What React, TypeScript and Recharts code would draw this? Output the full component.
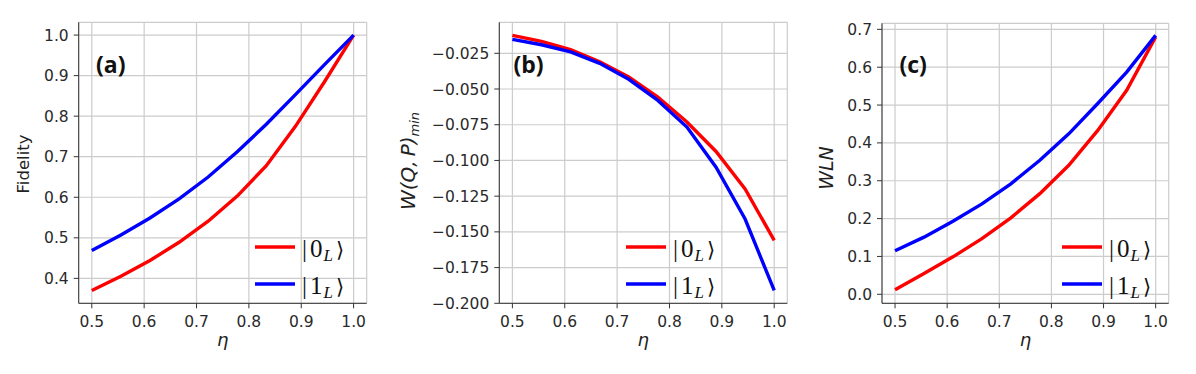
import React from 'react';
import { LineChart, Line, XAxis, YAxis, CartesianGrid, Legend } from 'recharts';

// ---------- data ----------
const eta = [0.5, 0.5556, 0.6111, 0.6667, 0.7222, 0.7778, 0.8333, 0.8889, 0.9444, 1.0];

const fidelity0 = [0.37, 0.405, 0.444, 0.489, 0.541, 0.603, 0.678, 0.775, 0.885, 1.0];
const fidelity1 = [0.469, 0.507, 0.549, 0.596, 0.65, 0.712, 0.78, 0.853, 0.927, 1.0];

const wigner0 = [-0.0124, -0.0166, -0.0224, -0.031, -0.0416, -0.0556, -0.0731, -0.0937, -0.1199, -0.156];
const wigner1 = [-0.0152, -0.019, -0.024, -0.032, -0.0432, -0.058, -0.0766, -0.1047, -0.141, -0.191];

const wln0 = [0.012, 0.055, 0.099, 0.147, 0.202, 0.266, 0.341, 0.433, 0.539, 0.68];
const wln1 = [0.115, 0.151, 0.193, 0.239, 0.292, 0.354, 0.424, 0.504, 0.587, 0.684];

const xTicks = [0.5, 0.6, 0.7, 0.8, 0.9, 1.0];
const fidelityTicks = [0.4, 0.5, 0.6, 0.7, 0.8, 0.9, 1.0];
const wignerTicks = [-0.2, -0.175, -0.15, -0.125, -0.1, -0.075, -0.05, -0.025];
const wlnTicks = [0.0, 0.1, 0.2, 0.3, 0.4, 0.5, 0.6, 0.7];

const seriesDigits = ['0', '1'];
const seriesColors = ['#ff0000', '#0000ff'];
const panelTags = ['(a)', '(b)', '(c)'];
const xLabel = 'η';

const build = (a: number[], b: number[]) => eta.map((e, i) => ({ eta: e, s0: a[i], s1: b[i] }));

// ---------- styling ----------
const H = 374;
const tickFont = { fontFamily: 'DejaVu Sans', fontSize: 15.5, fill: '#2a2a2a' };
const spine = '#333';
const gridColor = '#cccccc';

const fmt1 = (v: number) => v.toFixed(1);
const fmt3 = (v: number) => (v < 0 ? '\u2212' + Math.abs(v).toFixed(3) : v.toFixed(3));

const FixedText = (p: any) => (
  <text
    x={p.tx}
    y={p.ty}
    textAnchor={p.anchor || 'middle'}
    transform={p.rotate ? `rotate(-90, ${p.tx}, ${p.ty})` : undefined}
    fontFamily={p.family || 'DejaVu Sans'}
    fontSize={p.size}
    fontStyle={p.italic ? 'italic' : 'normal'}
    fontWeight={p.bold ? 'bold' : 'normal'}
    fill={p.fill || '#222'}
  >
    {p.children}
  </text>
);

const LegendBox = () => (
  <svg width={120} height={80} style={{ overflow: 'visible', display: 'block' }}>
    {seriesDigits.map((d, i) => {
      const y = 22 + i * 37;
      return (
        <g key={d}>
          <line x1={0} x2={40} y1={y} y2={y} stroke={seriesColors[i]} strokeWidth={3.4} />
          <text x={47} y={y + 10} fontFamily="Liberation Serif" fontSize={25} fill="#111">
            <tspan fill="#111">|</tspan>
            <tspan dx={3} fill="#111">{d}</tspan>
            <tspan fontStyle="italic" fontSize={17} dy={4} dx={1} fill="#111">L</tspan>
            <tspan dy={-4} dx={3} fontFamily="DejaVu Serif" fontSize={21} fill="#111">⟩</tspan>
          </text>
        </g>
      );
    })}
  </svg>
);

type PanelProps = {
  left: number;
  width: number;
  x0: number;
  x1: number;
  y0: number;
  y1: number;
  yDomain: [number, number];
  yTicks: number[];
  yFmt: (v: number) => string;
  yAxisWidth: number;
  data: any[];
  tag: string;
  tagX: number;
  legendX: number;
  legendY: number;
  yLabel: React.ReactElement;
};

const XAXH = 30;

const Panel = (p: PanelProps) => {
  const margin = {
    top: p.y0,
    right: p.width - p.x1,
    bottom: H - p.y1 - XAXH,
    left: p.x0 - p.yAxisWidth,
  };
  const xDomain: [number, number] = [0.475, 1.025];
  const yLabelGroup = (
    <g>
      {p.yLabel}
      <FixedText tx={p.tagX} ty={73} size={23} bold anchor="start" family="Open Sans" fill="#111">
        {p.tag}
      </FixedText>
    </g>
  );
  return (
    <div style={{ position: 'absolute', left: p.left, top: 0, width: p.width, height: H }}>
      <LineChart width={p.width} height={H} data={p.data} margin={margin}>
        <CartesianGrid stroke={gridColor} strokeWidth={1.2} />
        <XAxis
          dataKey="eta"
          type="number"
          domain={xDomain}
          ticks={xTicks}
          tickFormatter={fmt1}
          allowDataOverflow
          height={XAXH}
          tick={tickFont}
          tickSize={5}
          tickMargin={8}
          stroke={spine}
          tickLine={{ stroke: spine }}
          axisLine={{ stroke: spine }}
          interval={0}
          label={
            <FixedText tx={(p.x0 + p.x1) / 2} ty={346} size={18} italic>
              {xLabel}
            </FixedText>
          }
        />
        <XAxis
          xAxisId="top"
          orientation="top"
          dataKey="eta"
          type="number"
          domain={xDomain}
          allowDataOverflow
          height={0}
          tick={false}
          tickLine={false}
          axisLine={{ stroke: spine }}
        />
        <YAxis
          type="number"
          domain={p.yDomain}
          ticks={p.yTicks}
          tickFormatter={p.yFmt}
          allowDataOverflow
          width={p.yAxisWidth}
          tick={tickFont}
          tickSize={5}
          tickMargin={5}
          stroke={spine}
          tickLine={{ stroke: spine }}
          axisLine={{ stroke: spine }}
          interval={0}
          label={yLabelGroup}
        />
        <YAxis
          yAxisId="right"
          orientation="right"
          type="number"
          domain={p.yDomain}
          allowDataOverflow
          width={0}
          tick={false}
          tickLine={false}
          axisLine={{ stroke: spine }}
        />
        <Line dataKey="s0" type="linear" stroke={seriesColors[0]} strokeWidth={3.4} dot={false} isAnimationActive={false} />
        <Line dataKey="s1" type="linear" stroke={seriesColors[1]} strokeWidth={3.4} dot={false} isAnimationActive={false} />
        <Legend
          layout="vertical"
          align="center"
          verticalAlign="middle"
          content={<LegendBox />}
          wrapperStyle={{ position: 'absolute', left: p.legendX, top: p.legendY, width: 120, height: 80 }}
        />
      </LineChart>
    </div>
  );
};

export default function App() {
  return (
    <div style={{ position: 'absolute', left: 0, top: 0, width: 1196, height: H, background: '#fff', overflow: 'hidden' }}>
      <Panel
        left={0}
        width={385}
        x0={78.7}
        x1={366.7}
        y0={22.3}
        y1={303.3}
        yDomain={[0.3385, 1.0315]}
        yTicks={fidelityTicks}
        yFmt={fmt1}
        yAxisWidth={60}
        data={build(fidelity0, fidelity1)}
        tag={panelTags[0]}
        tagX={96}
        legendX={255}
        legendY={225}
        yLabel={
          <FixedText tx={28.5} ty={164} size={16.5} rotate>
            Fidelity
          </FixedText>
        }
      />
      <Panel
        left={385}
        width={415}
        x0={114.3}
        x1={402.3}
        y0={22.3}
        y1={303.3}
        yDomain={[-0.2, -0.0033]}
        yTicks={wignerTicks}
        yFmt={fmt3}
        yAxisWidth={80}
        data={build(wigner0, wigner1)}
        tag={panelTags[1]}
        tagX={128.5}
        legendX={241}
        legendY={225}
        yLabel={
          <FixedText tx={30} ty={161} size={20} rotate italic>
            W(Q,<tspan dx={4}>P)</tspan>
            <tspan fontSize={13} dy={4}>min</tspan>
          </FixedText>
        }
      />
      <Panel
        left={800}
        width={396}
        x0={82}
        x1={368.7}
        y0={23.3}
        y1={303.3}
        yDomain={[-0.0238, 0.716]}
        yTicks={wlnTicks}
        yFmt={fmt1}
        yAxisWidth={60}
        data={build(wln0, wln1)}
        tag={panelTags[2]}
        tagX={99.5}
        legendX={261.5}
        legendY={225}
        yLabel={
          <FixedText tx={33} ty={168} size={19} rotate italic>
            WLN
          </FixedText>
        }
      />
    </div>
  );
}
